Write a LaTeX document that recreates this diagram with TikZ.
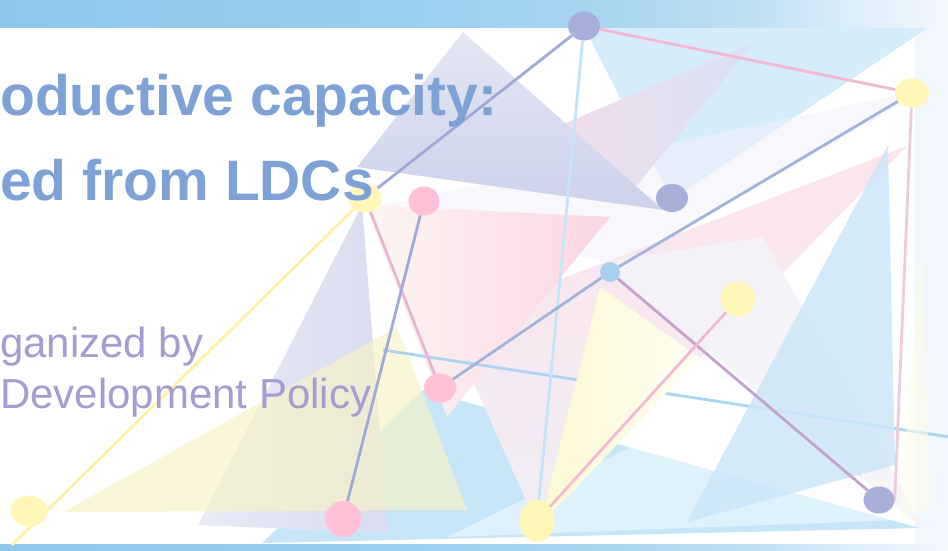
\documentclass[tikz,border=0pt]{standalone}
\usepackage{fontspec}
\setmainfont{Liberation Sans}
\usetikzlibrary{shapes.geometric}
\definecolor{bA}{HTML}{8DC8EB}
\definecolor{bB}{HTML}{98CEEE}
\definecolor{bC}{HTML}{A9D6F0}
\definecolor{bD}{HTML}{BFE0F4}
\definecolor{bE}{HTML}{DDEEF9}
\definecolor{bF}{HTML}{F3F8FD}
\definecolor{strip}{HTML}{F1F7FC}
\definecolor{lblue}{HTML}{D6EDF9}
\definecolor{gband}{HTML}{F2F2FA}
\definecolor{fpink}{HTML}{FBDCE6}
\definecolor{flav}{HTML}{D8E2F3}
\definecolor{elavA}{HTML}{E4E6F3}
\definecolor{elavB}{HTML}{CDD2EA}
\definecolor{btwo}{HTML}{C6E6F8}
\definecolor{vA}{HTML}{E8EAF5}
\definecolor{vB}{HTML}{D9DCEF}
\definecolor{ythree}{HTML}{F8F3C6}
\definecolor{lone}{HTML}{F4F3F9}
\definecolor{pA}{HTML}{FCE4EC}
\definecolor{pB}{HTML}{F1EDF4}
\definecolor{qA}{HTML}{FCF5F3}
\definecolor{qB}{HTML}{FAD5E3}
\definecolor{yA}{HTML}{FCF8D2}
\definecolor{yB}{HTML}{FEFEF3}
\definecolor{bone}{HTML}{CDE7F7}
\definecolor{ytwo}{HTML}{FCFCEA}
\definecolor{ndLav}{HTML}{A8B0DA}
\definecolor{ndYel}{HTML}{FFF6B8}
\definecolor{ndPink}{HTML}{FFC0D8}
\definecolor{ndSky}{HTML}{A7D0EE}
\definecolor{lnLav}{HTML}{A2A8D7}
\definecolor{lnPink}{HTML}{F5B8D1}
\definecolor{lnSky}{HTML}{C4E5F8}
\definecolor{lnBlue}{HTML}{A2B3DE}
\definecolor{lnPurp}{HTML}{C4A3D0}
\definecolor{lnPale}{HTML}{EDCBDB}
\definecolor{lnRose}{HTML}{E6B5D3}
\definecolor{lnYel}{HTML}{FFF2A8}
\definecolor{crossblue}{HTML}{A9D5F1}
\definecolor{titleblue}{HTML}{7EA1D6}
\definecolor{sublav}{HTML}{A69CD2}
\pgfdeclarehorizontalshading{bandshade}{100bp}{color(0bp)=(bA); color(25bp)=(bA); color(45bp)=(bB); color(57bp)=(bC); color(65bp)=(bD); color(70bp)=(bE); color(75bp)=(bF); color(100bp)=(bF)}
\pgfdeclarelayer{shp}
\pgfdeclarelayer{lns}
\pgfsetlayers{shp,lns,main}
\begin{document}
\begin{tikzpicture}[x=1pt,y=-1pt,
  dot/.style={ellipse, inner sep=0pt, draw=none},
  lk/.style={line width=2.8pt},
  ttl/.style={anchor=base west, inner sep=0pt, text=titleblue, font=\bfseries\fontsize{57}{57}\selectfont},
  sub/.style={anchor=base west, inner sep=0pt, text=sublav, font=\fontsize{42}{42}\selectfont}]
\useasboundingbox (0,0) rectangle (948,550);
\begin{pgfonlayer}{shp}
\clip (0,0) rectangle (948,550);
\fill[white] (0,0) rectangle (948,550);
\fill[strip] (915,0) rectangle (948,550);
\fill[lblue] (584,27) -- (929,27) -- (672,200) -- cycle;
\fill[gband, opacity=0.5] (360,210) -- (930,88) -- (620,265) -- cycle;
\shade[left color=fpink, right color=flav] (755,42) -- (480,160) -- (637,185) -- cycle;
\shade[top color=elavA, bottom color=elavB] (463,32) -- (357,167) -- (663,210) -- cycle;
\fill[btwo] (423,390) -- (920,528) -- (262,543) -- cycle;
\fill[white, opacity=0.45] (447,537) -- (633,446) -- (900,520) -- cycle;
\shade[left color=vA, right color=vB] (362,205) -- (198,525) -- (388,533) -- cycle;
\fill[ythree, opacity=0.65] (63,512) -- (397,327) -- (467,510) -- cycle;
\shade[top color=pA, bottom color=pB] (447,323) -- (907,146) -- (537,525) -- cycle;
\fill[lone, opacity=0.9] (600,262) -- (763,237) -- (925,530) -- cycle;
\shade[left color=qA, right color=qB] (365,205) -- (610,217) -- (447,417) -- cycle;
\coordinate (cl1) at (383,350);
\coordinate (cl2) at (950,437);
\draw[lk, crossblue] (cl1) -- (cl2);
\shade[left color=yA, right color=yB] (600,287) -- (700,358) -- (540,525) -- cycle;
\fill[bone, opacity=0.85] (888,145) -- (895,465) -- (687,522) -- cycle;
\fill[ytwo, opacity=0.6] (922,240) -- (930,508) -- (898,522) -- cycle;
\fill[shading=bandshade] (0,0) rectangle (948,27);
\fill[shading=bandshade] (0,544) rectangle (948,550);
\end{pgfonlayer}
% nodes
\node[dot, fill=ndLav, minimum width=32pt, minimum height=29pt] (n1) at (584,26) {};
\node[dot, fill=ndYel, minimum width=34pt, minimum height=29pt] (n2) at (912,93) {};
\node[dot, fill=ndLav, minimum width=32pt, minimum height=28pt] (n3) at (672,198) {};
\node[dot, fill=ndYel, minimum width=34pt, minimum height=29pt] (n4) at (365,198) {};
\node[dot, fill=ndPink, minimum width=31pt, minimum height=29pt] (n5) at (424,201) {};
\node[dot, fill=ndSky, minimum width=20pt, minimum height=20pt] (n6) at (610,272) {};
\node[dot, fill=ndYel, minimum width=35pt, minimum height=35pt] (n7) at (738,299) {};
\node[dot, fill=ndPink, minimum width=32pt, minimum height=29pt] (n8) at (440,388) {};
\node[dot, fill=ndLav, minimum width=31pt, minimum height=27pt] (n9) at (879,500) {};
\node[dot, fill=ndYel, minimum width=35pt, minimum height=42pt] (n10) at (537,521) {};
\node[dot, fill=ndPink, minimum width=36pt, minimum height=36pt] (n11) at (343,519) {};
\node[dot, fill=ndYel, minimum width=37pt, minimum height=31pt] (n12) at (29,511) {};
\coordinate (yend) at (12,545);
% connectors
\begin{pgfonlayer}{lns}
\draw[lk, lnYel] (n4) -- (yend);
\draw[lk, lnLav] (n1) -- (n4);
\draw[lk, lnPink] (n1) -- (n2);
\draw[lk, lnSky] (n1) -- (n10);
\draw[lk, lnBlue] (n2) -- (n6);
\draw[lk, lnBlue] (n6) -- (n8);
\draw[lk, lnPurp] (n6) -- (n9);
\draw[lk, lnPale] (n2) -- (n9.east);
\draw[lk, lnRose] (n4) -- (n8);
\draw[lk, lnLav] (n5) -- (n11);
\draw[lk, lnPink] (n7) -- (n10);
\end{pgfonlayer}
% text
\node[ttl] (t1) at (0,115) {oductive capacity:};
\node[ttl] (t2) at (0,200) {ed from LDCs};
\node[sub] (s1) at (0,357) {ganized by};
\node[sub] (s2) at (0,408) {Development Policy};
\end{tikzpicture}
\end{document}
